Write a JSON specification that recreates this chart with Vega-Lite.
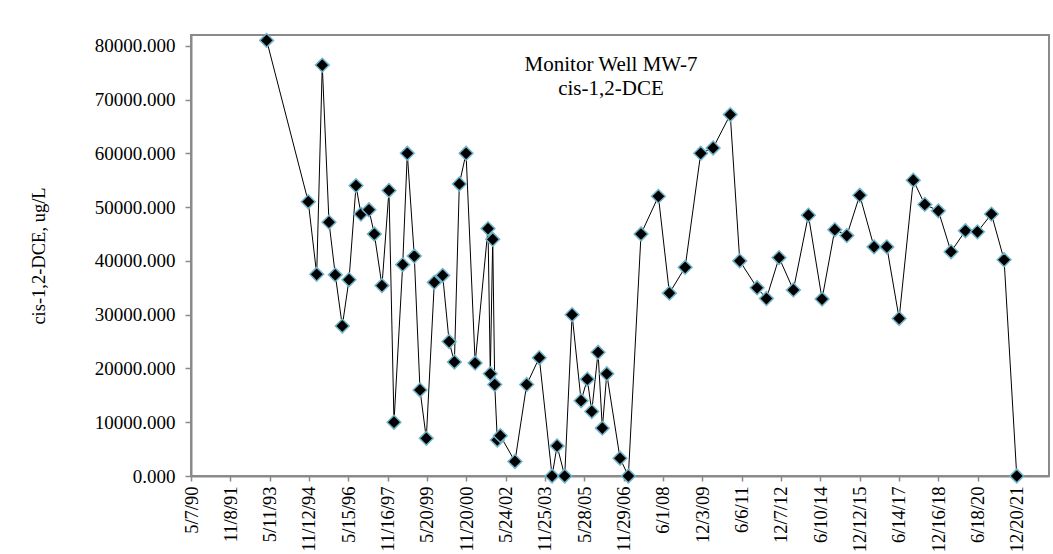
{
  "$schema": "https://vega.github.io/schema/vega-lite/v6.json",
  "width": 858,
  "height": 441,
  "autosize": "none",
  "padding": {"left": 191, "top": 35, "right": 4, "bottom": 78},
  "background": "white",
  "title": {
    "text": ["Monitor Well MW-7", "cis-1,2-DCE"],
    "anchor": "middle",
    "orient": "top",
    "offset": -69,
    "baseline": "top",
    "dx": -9,
    "font": "Liberation Serif",
    "fontSize": 21,
    "fontWeight": "normal",
    "color": "black",
    "lineHeight": 24
  },
  "data": {
    "values": [
      {"date": "1993-03-30", "dce": 81000},
      {"date": "1994-11-02", "dce": 51000},
      {"date": "1995-02-28", "dce": 37500},
      {"date": "1995-05-17", "dce": 76400},
      {"date": "1995-08-19", "dce": 47200},
      {"date": "1995-11-15", "dce": 37400},
      {"date": "1996-02-21", "dce": 27900},
      {"date": "1996-05-25", "dce": 36500},
      {"date": "1996-08-31", "dce": 54000},
      {"date": "1996-11-08", "dce": 48700},
      {"date": "1997-02-28", "dce": 49500},
      {"date": "1997-05-14", "dce": 45000},
      {"date": "1997-08-29", "dce": 35400},
      {"date": "1997-12-05", "dce": 53100},
      {"date": "1998-02-13", "dce": 10000},
      {"date": "1998-06-15", "dce": 39300},
      {"date": "1998-08-18", "dce": 60000},
      {"date": "1998-11-24", "dce": 40900},
      {"date": "1999-02-12", "dce": 16000},
      {"date": "1999-05-11", "dce": 7000},
      {"date": "1999-08-31", "dce": 36000},
      {"date": "1999-12-26", "dce": 37300},
      {"date": "2000-03-25", "dce": 25000},
      {"date": "2000-06-07", "dce": 21200},
      {"date": "2000-08-15", "dce": 54300},
      {"date": "2000-11-17", "dce": 60000},
      {"date": "2001-03-24", "dce": 21000},
      {"date": "2001-09-20", "dce": 46000},
      {"date": "2001-10-22", "dce": 19000},
      {"date": "2001-11-25", "dce": 44000},
      {"date": "2001-12-23", "dce": 17000},
      {"date": "2002-01-28", "dce": 6700},
      {"date": "2002-03-11", "dce": 7500},
      {"date": "2002-10-02", "dce": 2700},
      {"date": "2003-03-15", "dce": 17000},
      {"date": "2003-09-07", "dce": 22000},
      {"date": "2004-03-04", "dce": 0},
      {"date": "2004-05-13", "dce": 5600},
      {"date": "2004-08-28", "dce": 0},
      {"date": "2004-12-09", "dce": 30000},
      {"date": "2005-04-14", "dce": 14000},
      {"date": "2005-07-10", "dce": 18000},
      {"date": "2005-09-10", "dce": 12000},
      {"date": "2005-12-07", "dce": 23000},
      {"date": "2006-02-05", "dce": 8900},
      {"date": "2006-04-08", "dce": 19000},
      {"date": "2006-10-10", "dce": 3300},
      {"date": "2007-02-04", "dce": 0},
      {"date": "2007-07-31", "dce": 45000},
      {"date": "2008-03-30", "dce": 52000},
      {"date": "2008-08-31", "dce": 34000},
      {"date": "2009-04-08", "dce": 38800},
      {"date": "2009-11-12", "dce": 60000},
      {"date": "2010-05-04", "dce": 61000},
      {"date": "2010-12-30", "dce": 67200},
      {"date": "2011-05-12", "dce": 40000},
      {"date": "2012-01-09", "dce": 35000},
      {"date": "2012-05-19", "dce": 33000},
      {"date": "2012-11-12", "dce": 40600},
      {"date": "2013-05-31", "dce": 34600},
      {"date": "2013-12-27", "dce": 48500},
      {"date": "2014-07-06", "dce": 32900},
      {"date": "2014-12-31", "dce": 45800},
      {"date": "2015-06-17", "dce": 44700},
      {"date": "2015-12-15", "dce": 52200},
      {"date": "2016-07-02", "dce": 42600},
      {"date": "2016-12-28", "dce": 42600},
      {"date": "2017-06-18", "dce": 29300},
      {"date": "2018-01-02", "dce": 55000},
      {"date": "2018-06-12", "dce": 50500},
      {"date": "2018-12-19", "dce": 49300},
      {"date": "2019-06-14", "dce": 41700},
      {"date": "2020-01-01", "dce": 45600},
      {"date": "2020-06-17", "dce": 45400},
      {"date": "2020-12-30", "dce": 48700},
      {"date": "2021-06-25", "dce": 40200},
      {"date": "2021-12-19", "dce": 0}
    ]
  },
  "encoding": {
    "x": {
      "field": "date",
      "type": "temporal",
      "scale": {
        "type": "utc",
        "domain": [
          {"year": 1990, "month": 5, "date": 7, "utc": true},
          {"year": 2023, "month": 3, "date": 15, "utc": true}
        ]
      },
      "axis": {
        "title": null,
        "values": [
          {"year": 1990, "month": 5, "date": 7, "utc": true},
          {"year": 1991, "month": 11, "date": 8, "utc": true},
          {"year": 1993, "month": 5, "date": 11, "utc": true},
          {"year": 1994, "month": 11, "date": 12, "utc": true},
          {"year": 1996, "month": 5, "date": 15, "utc": true},
          {"year": 1997, "month": 11, "date": 16, "utc": true},
          {"year": 1999, "month": 5, "date": 20, "utc": true},
          {"year": 2000, "month": 11, "date": 20, "utc": true},
          {"year": 2002, "month": 5, "date": 24, "utc": true},
          {"year": 2003, "month": 11, "date": 25, "utc": true},
          {"year": 2005, "month": 5, "date": 28, "utc": true},
          {"year": 2006, "month": 11, "date": 29, "utc": true},
          {"year": 2008, "month": 6, "date": 1, "utc": true},
          {"year": 2009, "month": 12, "date": 3, "utc": true},
          {"year": 2011, "month": 6, "date": 6, "utc": true},
          {"year": 2012, "month": 12, "date": 7, "utc": true},
          {"year": 2014, "month": 6, "date": 10, "utc": true},
          {"year": 2015, "month": 12, "date": 12, "utc": true},
          {"year": 2017, "month": 6, "date": 14, "utc": true},
          {"year": 2018, "month": 12, "date": 16, "utc": true},
          {"year": 2020, "month": 6, "date": 18, "utc": true},
          {"year": 2021, "month": 12, "date": 20, "utc": true}
        ],
        "format": "%-m/%-d/%y",
        "labelAngle": -90,
        "labelFont": "Liberation Serif",
        "labelFontSize": 18.5,
        "labelColor": "black",
        "labelPadding": 5,
        "labelOverlap": false,
        "labelFlush": false,
        "labelBound": false,
        "tickColor": "#8a8a8a",
        "tickSize": 5,
        "tickWidth": 1.5,
        "domainColor": "#8a8a8a",
        "domainWidth": 2,
        "grid": false
      }
    },
    "y": {
      "field": "dce",
      "type": "quantitative",
      "scale": {"domain": [0, 82000], "nice": false, "zero": true},
      "axis": {
        "title": "cis-1,2-DCE, ug/L",
        "titleFont": "Liberation Serif",
        "titleFontSize": 18.5,
        "titleFontWeight": "normal",
        "titleColor": "black",
        "titlePadding": 46,
        "values": [0, 10000, 20000, 30000, 40000, 50000, 60000, 70000, 80000],
        "format": ".3f",
        "labelFont": "Liberation Serif",
        "labelFontSize": 19,
        "labelColor": "black",
        "labelPadding": 10,
        "tickColor": "#8a8a8a",
        "tickSize": 6,
        "tickWidth": 1.5,
        "domainColor": "#8a8a8a",
        "domainWidth": 2,
        "grid": false
      }
    }
  },
  "layer": [
    {"mark": {"type": "line", "color": "black", "strokeWidth": 1}},
    {"mark": {"type": "point", "shape": "diamond", "filled": true, "fill": "black", "stroke": "#72b5cb", "strokeWidth": 1.5, "size": 190, "opacity": 1}}
  ],
  "config": {
    "view": {"stroke": "#8a8a8a", "strokeWidth": 2}
  }
}
